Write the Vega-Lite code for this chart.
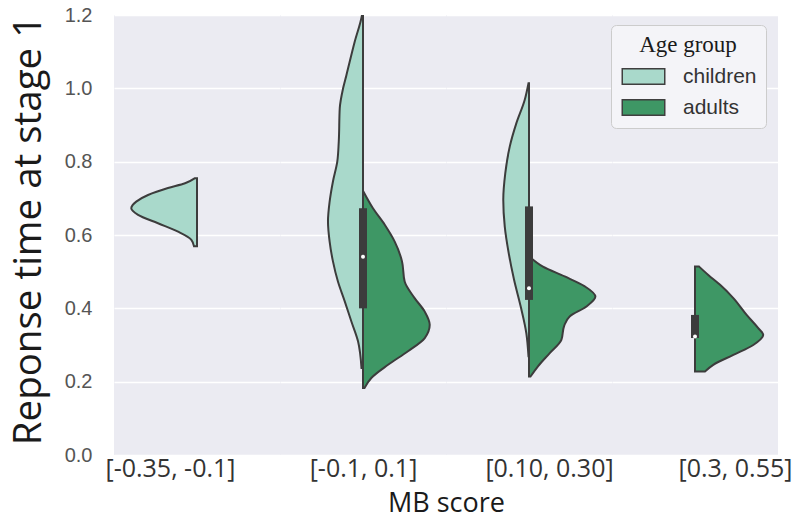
{
  "$schema": "https://vega.github.io/schema/vega-lite/v6.json",
  "background": "white",
  "autosize": {"type": "pad"},
  "padding": {"left": 9, "top": 5, "right": 0, "bottom": 0},
  "spacing": 0,
  "bounds": "flush",
  "datasets": {
    "violin": [
      {"g": "[-0.35, -0.1]", "age": "children", "rt": 0.569, "w": 0.018},
      {"g": "[-0.35, -0.1]", "age": "children", "rt": 0.587, "w": 0.034},
      {"g": "[-0.35, -0.1]", "age": "children", "rt": 0.609, "w": 0.114},
      {"g": "[-0.35, -0.1]", "age": "children", "rt": 0.632, "w": 0.235},
      {"g": "[-0.35, -0.1]", "age": "children", "rt": 0.655, "w": 0.355},
      {"g": "[-0.35, -0.1]", "age": "children", "rt": 0.673, "w": 0.396},
      {"g": "[-0.35, -0.1]", "age": "children", "rt": 0.691, "w": 0.366},
      {"g": "[-0.35, -0.1]", "age": "children", "rt": 0.709, "w": 0.295},
      {"g": "[-0.35, -0.1]", "age": "children", "rt": 0.728, "w": 0.175},
      {"g": "[-0.35, -0.1]", "age": "children", "rt": 0.741, "w": 0.072},
      {"g": "[-0.35, -0.1]", "age": "children", "rt": 0.755, "w": 0.012},

      {"g": "[-0.1, 0.1]", "age": "children", "rt": 0.237, "w": 0.009},
      {"g": "[-0.1, 0.1]", "age": "children", "rt": 0.31, "w": 0.03},
      {"g": "[-0.1, 0.1]", "age": "children", "rt": 0.364, "w": 0.07},
      {"g": "[-0.1, 0.1]", "age": "children", "rt": 0.419, "w": 0.11},
      {"g": "[-0.1, 0.1]", "age": "children", "rt": 0.473, "w": 0.151},
      {"g": "[-0.1, 0.1]", "age": "children", "rt": 0.528, "w": 0.181},
      {"g": "[-0.1, 0.1]", "age": "children", "rt": 0.582, "w": 0.201},
      {"g": "[-0.1, 0.1]", "age": "children", "rt": 0.637, "w": 0.211},
      {"g": "[-0.1, 0.1]", "age": "children", "rt": 0.691, "w": 0.201},
      {"g": "[-0.1, 0.1]", "age": "children", "rt": 0.746, "w": 0.181},
      {"g": "[-0.1, 0.1]", "age": "children", "rt": 0.8, "w": 0.155},
      {"g": "[-0.1, 0.1]", "age": "children", "rt": 0.855, "w": 0.146},
      {"g": "[-0.1, 0.1]", "age": "children", "rt": 0.946, "w": 0.14},
      {"g": "[-0.1, 0.1]", "age": "children", "rt": 1.0, "w": 0.12},
      {"g": "[-0.1, 0.1]", "age": "children", "rt": 1.036, "w": 0.1},
      {"g": "[-0.1, 0.1]", "age": "children", "rt": 1.127, "w": 0.05},
      {"g": "[-0.1, 0.1]", "age": "children", "rt": 1.2, "w": 0.006},
      {"g": "[-0.1, 0.1]", "age": "children", "rt": 1.22, "w": 0.0},

      {"g": "[-0.1, 0.1]", "age": "adults", "rt": 0.183, "w": 0.009},
      {"g": "[-0.1, 0.1]", "age": "adults", "rt": 0.21, "w": 0.05},
      {"g": "[-0.1, 0.1]", "age": "adults", "rt": 0.246, "w": 0.151},
      {"g": "[-0.1, 0.1]", "age": "adults", "rt": 0.283, "w": 0.271},
      {"g": "[-0.1, 0.1]", "age": "adults", "rt": 0.319, "w": 0.372},
      {"g": "[-0.1, 0.1]", "age": "adults", "rt": 0.355, "w": 0.402},
      {"g": "[-0.1, 0.1]", "age": "adults", "rt": 0.391, "w": 0.372},
      {"g": "[-0.1, 0.1]", "age": "adults", "rt": 0.428, "w": 0.311},
      {"g": "[-0.1, 0.1]", "age": "adults", "rt": 0.473, "w": 0.251},
      {"g": "[-0.1, 0.1]", "age": "adults", "rt": 0.528, "w": 0.235},
      {"g": "[-0.1, 0.1]", "age": "adults", "rt": 0.582, "w": 0.191},
      {"g": "[-0.1, 0.1]", "age": "adults", "rt": 0.628, "w": 0.131},
      {"g": "[-0.1, 0.1]", "age": "adults", "rt": 0.673, "w": 0.06},
      {"g": "[-0.1, 0.1]", "age": "adults", "rt": 0.718, "w": 0.003},

      {"g": "[0.10, 0.30]", "age": "children", "rt": 0.269, "w": 0.003},
      {"g": "[0.10, 0.30]", "age": "children", "rt": 0.332, "w": 0.016},
      {"g": "[0.10, 0.30]", "age": "children", "rt": 0.405, "w": 0.05},
      {"g": "[0.10, 0.30]", "age": "children", "rt": 0.478, "w": 0.09},
      {"g": "[0.10, 0.30]", "age": "children", "rt": 0.55, "w": 0.122},
      {"g": "[0.10, 0.30]", "age": "children", "rt": 0.623, "w": 0.146},
      {"g": "[0.10, 0.30]", "age": "children", "rt": 0.696, "w": 0.155},
      {"g": "[0.10, 0.30]", "age": "children", "rt": 0.768, "w": 0.143},
      {"g": "[0.10, 0.30]", "age": "children", "rt": 0.841, "w": 0.116},
      {"g": "[0.10, 0.30]", "age": "children", "rt": 0.905, "w": 0.076},
      {"g": "[0.10, 0.30]", "age": "children", "rt": 0.968, "w": 0.026},
      {"g": "[0.10, 0.30]", "age": "children", "rt": 1.014, "w": 0.003},

      {"g": "[0.10, 0.30]", "age": "adults", "rt": 0.214, "w": 0.009},
      {"g": "[0.10, 0.30]", "age": "adults", "rt": 0.242, "w": 0.054},
      {"g": "[0.10, 0.30]", "age": "adults", "rt": 0.278, "w": 0.125},
      {"g": "[0.10, 0.30]", "age": "adults", "rt": 0.314, "w": 0.195},
      {"g": "[0.10, 0.30]", "age": "adults", "rt": 0.351, "w": 0.211},
      {"g": "[0.10, 0.30]", "age": "adults", "rt": 0.378, "w": 0.245},
      {"g": "[0.10, 0.30]", "age": "adults", "rt": 0.405, "w": 0.346},
      {"g": "[0.10, 0.30]", "age": "adults", "rt": 0.432, "w": 0.4},
      {"g": "[0.10, 0.30]", "age": "adults", "rt": 0.46, "w": 0.336},
      {"g": "[0.10, 0.30]", "age": "adults", "rt": 0.487, "w": 0.215},
      {"g": "[0.10, 0.30]", "age": "adults", "rt": 0.514, "w": 0.084},
      {"g": "[0.10, 0.30]", "age": "adults", "rt": 0.541, "w": 0.003},

      {"g": "[0.3, 0.55]", "age": "adults", "rt": 0.228, "w": 0.06},
      {"g": "[0.3, 0.55]", "age": "adults", "rt": 0.246, "w": 0.11},
      {"g": "[0.3, 0.55]", "age": "adults", "rt": 0.273, "w": 0.231},
      {"g": "[0.3, 0.55]", "age": "adults", "rt": 0.3, "w": 0.351},
      {"g": "[0.3, 0.55]", "age": "adults", "rt": 0.328, "w": 0.411},
      {"g": "[0.3, 0.55]", "age": "adults", "rt": 0.346, "w": 0.381},
      {"g": "[0.3, 0.55]", "age": "adults", "rt": 0.382, "w": 0.311},
      {"g": "[0.3, 0.55]", "age": "adults", "rt": 0.428, "w": 0.231},
      {"g": "[0.3, 0.55]", "age": "adults", "rt": 0.464, "w": 0.151},
      {"g": "[0.3, 0.55]", "age": "adults", "rt": 0.491, "w": 0.08},
      {"g": "[0.3, 0.55]", "age": "adults", "rt": 0.514, "w": 0.024}
    ],
    "box": [
      {"g": "[-0.1, 0.1]", "lo": 0.237, "q1": 0.4, "med": 0.541, "q3": 0.673, "hi": 0.973},
      {"g": "[0.10, 0.30]", "lo": 0.27, "q1": 0.423, "med": 0.455, "q3": 0.678, "hi": 1.0},
      {"g": "[0.3, 0.55]", "lo": 0.3, "q1": 0.319, "med": 0.323, "q3": 0.382, "hi": 0.43}
    ]
  },
  "config": {
    "view": {"fill": "#EBEBF2", "stroke": null},
    "axis": {
      "domain": false,
      "ticks": false,
      "gridColor": "#FFFFFF",
      "gridWidth": 1.5,
      "labelFlush": false,
      "labelBound": false
    },
    "axisY": {
      "labelFont": "Liberation Sans",
      "labelFontSize": 20,
      "labelColor": "#555555",
      "labelPadding": 22,
      "titleFont": "Open Sans",
      "titleFontSize": 38.5,
      "titleFontWeight": "normal",
      "titleColor": "#1A1A1A",
      "titlePadding": 16
    },
    "axisX": {
      "grid": false,
      "labelFont": "Open Sans",
      "labelFontSize": 25,
      "labelColor": "#333333",
      "labelPadding": 1,
      "titleFont": "Open Sans",
      "titleFontSize": 27,
      "titleFontWeight": "normal",
      "titleColor": "#1A1A1A"
    },
    "legend": {
      "orient": "none",
      "legendX": 497,
      "legendY": 10,
      "fillColor": "#F4F4F8",
      "strokeColor": "#CCCCCC",
      "cornerRadius": 5,
      "padding": 9,
      "titleFont": "Liberation Serif",
      "titleFontSize": 23,
      "titleFontWeight": "normal",
      "titleColor": "#1A1A1A",
      "titleAnchor": "middle",
      "titlePadding": 9,
      "labelFont": "Liberation Sans",
      "labelFontSize": 21,
      "labelColor": "#333333",
      "labelOffset": 29,
      "symbolType": "M-2.5,-0.92H2.5V0.92H-2.5Z",
      "symbolSize": 289,
      "symbolOffset": 13,
      "symbolStrokeColor": "#3F3F3F",
      "symbolStrokeWidth": 1.5,
      "rowPadding": 8
    }
  },
  "resolve": {"scale": {"color": "shared", "y": "shared"}, "legend": {"color": "shared"}},
  "hconcat": [
    {
      "width": 166,
      "height": 440,
      "resolve": {"scale": {"x": "independent"}, "axis": {"x": "independent"}},
      "layer": [
        {
          "data": {"name": "violin"},
          "transform": [{"filter": "datum.g === '[-0.35, -0.1]' && datum.age === 'children'"}],
          "mark": {"type": "area", "orient": "horizontal", "interpolate": "monotone", "stroke": "#3C3C3C", "strokeWidth": 2, "clip": true},
          "encoding": {
            "y": {"field": "rt", "type": "quantitative", "scale": {"domain": [0, 1.2], "nice": false},
                  "axis": {"title": "Reponse time at stage 1", "titleY": 215, "values": [0, 0.2, 0.4, 0.6, 0.8, 1.0, 1.2], "format": ".1f", "grid": true}},
            "x": {"field": "w", "type": "quantitative", "stack": null, "scale": {"domain": [-0.5, 0.5], "reverse": true},
                  "axis": {"values": [0], "labelExpr": "'[-0.35, -0.1]'", "labelOffset": -27, "title": null}},
            "color": {"field": "age", "type": "nominal", "title": "Age group",
                      "scale": {"domain": ["children", "adults"], "range": ["#A9D9CB", "#3E9765"]}}
          }
        }
      ]
    },
    {
      "width": 166,
      "height": 440,
      "resolve": {"scale": {"x": "independent"}, "axis": {"x": "independent"}},
      "layer": [
        {
          "data": {"name": "violin"},
          "transform": [{"filter": "datum.g === '[-0.1, 0.1]' && datum.age === 'children'"}],
          "mark": {"type": "area", "orient": "horizontal", "interpolate": "monotone", "stroke": "#3C3C3C", "strokeWidth": 2, "clip": true},
          "encoding": {
            "y": {"field": "rt", "type": "quantitative", "scale": {"domain": [0, 1.2], "nice": false},
                  "axis": {"title": null, "values": [0, 0.2, 0.4, 0.6, 0.8, 1.0, 1.2], "labels": false, "grid": true}},
            "x": {"field": "w", "type": "quantitative", "stack": null, "scale": {"domain": [-0.5, 0.5], "reverse": true}, "axis": null},
            "color": {"field": "age", "type": "nominal", "title": "Age group",
                      "scale": {"domain": ["children", "adults"], "range": ["#A9D9CB", "#3E9765"]}}
          }
        },
        {
          "data": {"name": "violin"},
          "transform": [{"filter": "datum.g === '[-0.1, 0.1]' && datum.age === 'adults'"}],
          "mark": {"type": "area", "orient": "horizontal", "interpolate": "monotone", "stroke": "#3C3C3C", "strokeWidth": 2, "clip": true},
          "encoding": {
            "y": {"field": "rt", "type": "quantitative"},
            "x": {"field": "w", "type": "quantitative", "stack": null, "scale": {"domain": [-0.5, 0.5]},
                  "axis": {"values": [0], "labelExpr": "'[-0.1, 0.1]'", "labelOffset": 0, "title": "MB score", "titleX": 166, "titleY": 48, "titleBaseline": "middle"}},
            "color": {"field": "age", "type": "nominal", "title": "Age group"}
          }
        },
        {
          "data": {"name": "box"},
          "transform": [{"filter": "datum.g === '[-0.1, 0.1]'"}],
          "mark": {"type": "rule", "color": "#3C3C3C", "strokeWidth": 2},
          "encoding": {
            "x": {"datum": 0, "type": "quantitative", "scale": {"domain": [-0.5, 0.5]}, "axis": null},
            "y": {"field": "lo", "type": "quantitative"},
            "y2": {"field": "hi"}
          }
        },
        {
          "data": {"name": "box"},
          "transform": [{"filter": "datum.g === '[-0.1, 0.1]'"}],
          "mark": {"type": "rule", "color": "#3C3C3C", "strokeWidth": 8, "strokeCap": "butt"},
          "encoding": {
            "x": {"datum": 0, "type": "quantitative", "scale": {"domain": [-0.5, 0.5]}, "axis": null},
            "y": {"field": "q1", "type": "quantitative"},
            "y2": {"field": "q3"}
          }
        },
        {
          "data": {"name": "box"},
          "transform": [{"filter": "datum.g === '[-0.1, 0.1]'"}],
          "mark": {"type": "point", "filled": true, "color": "#FFFFFF", "opacity": 1, "size": 16},
          "encoding": {
            "x": {"datum": 0, "type": "quantitative", "scale": {"domain": [-0.5, 0.5]}, "axis": null},
            "y": {"field": "med", "type": "quantitative"}
          }
        }
      ]
    },
    {
      "width": 166,
      "height": 440,
      "resolve": {"scale": {"x": "independent"}, "axis": {"x": "independent"}},
      "layer": [
        {
          "data": {"name": "violin"},
          "transform": [{"filter": "datum.g === '[0.10, 0.30]' && datum.age === 'children'"}],
          "mark": {"type": "area", "orient": "horizontal", "interpolate": "monotone", "stroke": "#3C3C3C", "strokeWidth": 2, "clip": true},
          "encoding": {
            "y": {"field": "rt", "type": "quantitative", "scale": {"domain": [0, 1.2], "nice": false},
                  "axis": {"title": null, "values": [0, 0.2, 0.4, 0.6, 0.8, 1.0, 1.2], "labels": false, "grid": true}},
            "x": {"field": "w", "type": "quantitative", "stack": null, "scale": {"domain": [-0.5, 0.5], "reverse": true}, "axis": null},
            "color": {"field": "age", "type": "nominal", "title": "Age group",
                      "scale": {"domain": ["children", "adults"], "range": ["#A9D9CB", "#3E9765"]}}
          }
        },
        {
          "data": {"name": "violin"},
          "transform": [{"filter": "datum.g === '[0.10, 0.30]' && datum.age === 'adults'"}],
          "mark": {"type": "area", "orient": "horizontal", "interpolate": "monotone", "stroke": "#3C3C3C", "strokeWidth": 2, "clip": true},
          "encoding": {
            "y": {"field": "rt", "type": "quantitative"},
            "x": {"field": "w", "type": "quantitative", "stack": null, "scale": {"domain": [-0.5, 0.5]},
                  "axis": {"values": [0], "labelExpr": "'[0.10, 0.30]'", "labelOffset": 20, "title": null}},
            "color": {"field": "age", "type": "nominal", "title": "Age group"}
          }
        },
        {
          "data": {"name": "box"},
          "transform": [{"filter": "datum.g === '[0.10, 0.30]'"}],
          "mark": {"type": "rule", "color": "#3C3C3C", "strokeWidth": 2},
          "encoding": {
            "x": {"datum": 0, "type": "quantitative", "scale": {"domain": [-0.5, 0.5]}, "axis": null},
            "y": {"field": "lo", "type": "quantitative"},
            "y2": {"field": "hi"}
          }
        },
        {
          "data": {"name": "box"},
          "transform": [{"filter": "datum.g === '[0.10, 0.30]'"}],
          "mark": {"type": "rule", "color": "#3C3C3C", "strokeWidth": 8, "strokeCap": "butt"},
          "encoding": {
            "x": {"datum": 0, "type": "quantitative", "scale": {"domain": [-0.5, 0.5]}, "axis": null},
            "y": {"field": "q1", "type": "quantitative"},
            "y2": {"field": "q3"}
          }
        },
        {
          "data": {"name": "box"},
          "transform": [{"filter": "datum.g === '[0.10, 0.30]'"}],
          "mark": {"type": "point", "filled": true, "color": "#FFFFFF", "opacity": 1, "size": 16},
          "encoding": {
            "x": {"datum": 0, "type": "quantitative", "scale": {"domain": [-0.5, 0.5]}, "axis": null},
            "y": {"field": "med", "type": "quantitative"}
          }
        }
      ]
    },
    {
      "width": 166,
      "height": 440,
      "resolve": {"scale": {"x": "independent"}, "axis": {"x": "independent"}},
      "layer": [
        {
          "data": {"name": "violin"},
          "transform": [{"filter": "datum.g === '[0.3, 0.55]' && datum.age === 'adults'"}],
          "mark": {"type": "area", "orient": "horizontal", "interpolate": "monotone", "stroke": "#3C3C3C", "strokeWidth": 2, "clip": true},
          "encoding": {
            "y": {"field": "rt", "type": "quantitative", "scale": {"domain": [0, 1.2], "nice": false},
                  "axis": {"title": null, "values": [0, 0.2, 0.4, 0.6, 0.8, 1.0, 1.2], "labels": false, "grid": true}},
            "x": {"field": "w", "type": "quantitative", "stack": null, "scale": {"domain": [-0.5, 0.5]},
                  "axis": {"values": [0], "labelExpr": "'[0.3, 0.55]'", "labelOffset": 40, "title": null}},
            "color": {"field": "age", "type": "nominal", "title": "Age group",
                      "scale": {"domain": ["children", "adults"], "range": ["#A9D9CB", "#3E9765"]}}
          }
        },
        {
          "data": {"name": "box"},
          "transform": [{"filter": "datum.g === '[0.3, 0.55]'"}],
          "mark": {"type": "rule", "color": "#3C3C3C", "strokeWidth": 2},
          "encoding": {
            "x": {"datum": 0, "type": "quantitative", "scale": {"domain": [-0.5, 0.5]}, "axis": null},
            "y": {"field": "lo", "type": "quantitative"},
            "y2": {"field": "hi"}
          }
        },
        {
          "data": {"name": "box"},
          "transform": [{"filter": "datum.g === '[0.3, 0.55]'"}],
          "mark": {"type": "rule", "color": "#3C3C3C", "strokeWidth": 8, "strokeCap": "butt"},
          "encoding": {
            "x": {"datum": 0, "type": "quantitative", "scale": {"domain": [-0.5, 0.5]}, "axis": null},
            "y": {"field": "q1", "type": "quantitative"},
            "y2": {"field": "q3"}
          }
        },
        {
          "data": {"name": "box"},
          "transform": [{"filter": "datum.g === '[0.3, 0.55]'"}],
          "mark": {"type": "point", "filled": true, "color": "#FFFFFF", "opacity": 1, "size": 16},
          "encoding": {
            "x": {"datum": 0, "type": "quantitative", "scale": {"domain": [-0.5, 0.5]}, "axis": null},
            "y": {"field": "med", "type": "quantitative"}
          }
        }
      ]
    }
  ]
}
